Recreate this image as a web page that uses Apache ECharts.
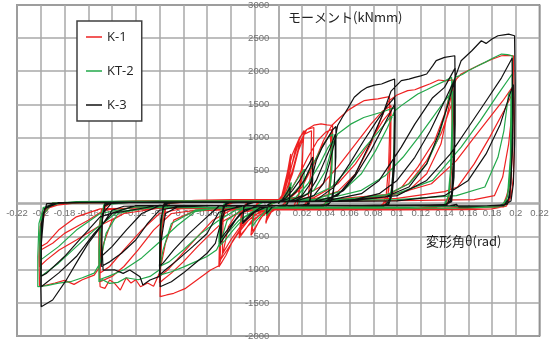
<!DOCTYPE html>
<html>
<head>
<meta charset="utf-8">
<script src="https://cdn.jsdelivr.net/npm/echarts@6/dist/echarts.min.js"></script>
<style>
html,body{margin:0;padding:0;background:#fff;}
#chart{width:554px;height:345px;}
</style>
</head>
<body>
<div id="chart"></div>
<script>
// ---- labels ----
const SERIES_NAMES = ['K-1', 'KT-2', 'K-3'];
const Y_TITLE = 'モーメント(kNmm)';
const X_TITLE = '変形角θ(rad)';

// ---- K-1 (red) : [rotation (rad), moment (kNmm)] ----
const K1_small = [[0,0],[0.002,60],[0.005,250],[0.008,500],[0.0105,750],[0.0095,300],[0.007,40],[0.003,-40],[0,-60],[-0.005,-90],[-0.008,-160],[-0.0105,-300],[-0.008,-60],[-0.004,30],[0,40],
 [0.004,130],[0.008,420],[0.0105,680],[0.009,180],[0.006,-30],[0,-60],[-0.006,-130],[-0.0105,-280],[-0.008,-30],[0,40],
 [0.004,120],[0.009,400],[0.014,780],[0.019,1020],[0.0217,1104],[0.02,600],[0.017,120],[0.013,-40],[0.005,-70],[0,-80],[-0.008,-110],[-0.015,-220],[-0.02,-400],[-0.023,-480],[-0.021,-100],[-0.017,30],[-0.01,50],[0,50],
 [0.006,150],[0.012,450],[0.017,800],[0.021,980],[0.02,400],[0.016,-20],[0.008,-60],[0,-70],[-0.012,-150],[-0.02,-380],[-0.022,-420],[-0.02,-60],[-0.015,30],[0,50],
 [0.003,120],[0.007,420],[0.012,750],[0.018,1000],[0.024,1120],[0.03,1150],[0.0295,600],[0.027,100],[0.023,-50],[0,-80],[-0.012,-130],[-0.022,-250],[-0.03,-450],[-0.033,-520],[-0.031,-120],[-0.026,30],[0,50],
 [0.005,150],[0.01,500],[0.016,850],[0.022,1050],[0.028,1100],[0.0275,500],[0.025,50],[0.02,-60],[0,-75],[-0.015,-160],[-0.025,-330],[-0.032,-480],[-0.03,-80],[-0.024,40],[0,50]];
const K1_c05 = [[0.006,150],[0.012,500],[0.018,900],[0.024,1120],[0.03,1185],[0.036,1205],[0.041,1190],[0.0458,1180],[0.0455,800],[0.044,300],[0.041,20],[0.035,-50],[0.02,-70],[0,-80],[-0.01,-100],[-0.02,-170],[-0.03,-330],[-0.038,-550],[-0.044,-780],[-0.048,-900],[-0.05,-955],[-0.0495,-600],[-0.048,-250],[-0.045,-30],[-0.04,40],[-0.025,55],[0,60],
 [0.008,120],[0.016,380],[0.025,700],[0.033,950],[0.04,1080],[0.045,1120],[0.0445,600],[0.042,100],[0.038,-40],[0.02,-70],[0,-80],[-0.015,-120],[-0.025,-250],[-0.035,-480],[-0.043,-700],[-0.049,-860],[-0.048,-350],[-0.045,-40],[-0.035,40],[0,55],
 [0.01,100],[0.02,300],[0.03,600],[0.038,900],[0.044,1050],[0.0445,450],[0.041,0],[0.03,-60],[0,-80],[-0.02,-130],[-0.03,-300],[-0.04,-550],[-0.047,-760],[-0.0465,-250],[-0.043,10],[0,50]];
const K1_c10 = [[0.01,80],[0.02,250],[0.03,600],[0.038,950],[0.045,1180],[0.052,1300],[0.0585,1405],[0.065,1480],[0.0725,1556],[0.078,1570],[0.0839,1581],[0.089,1600],[0.0937,1616],[0.094,1200],[0.093,600],[0.091,150],[0.088,-40],[0.075,-70],[0.05,-80],[0.02,-80],[0,-90],[-0.02,-100],[-0.035,-150],[-0.042,-350],[-0.046,-700],[-0.05,-940],[-0.057,-1004],[-0.0685,-1155],[-0.078,-1280],[-0.088,-1355],[-0.094,-1380],[-0.0995,-1406],[-0.099,-900],[-0.098,-400],[-0.095,-80],[-0.09,30],[-0.07,50],[-0.04,60],[0,60],
 [0.02,100],[0.035,250],[0.05,550],[0.065,900],[0.078,1200],[0.088,1400],[0.095,1480],[0.0945,800],[0.093,200],[0.09,-30],[0.06,-70],[0,-80],[-0.03,-100],[-0.045,-250],[-0.055,-420],[-0.068,-650],[-0.08,-880],[-0.09,-1050],[-0.097,-1150],[-0.1,-1200],[-0.0995,-600],[-0.097,-150],[-0.094,20],[-0.07,50],[0,55],
 [0.03,90],[0.05,300],[0.065,600],[0.078,950],[0.088,1250],[0.095,1400],[0.0945,600],[0.092,50],[0.085,-50],[0,-70],[-0.04,-100],[-0.055,-250],[-0.068,-500],[-0.083,-800],[-0.093,-1000],[-0.1,-1100],[-0.099,-350],[-0.096,0],[-0.06,40],[0,50]];
const K1_c15 = [[0.03,70],[0.05,180],[0.065,450],[0.078,900],[0.087,1300],[0.093,1550],[0.1,1640],[0.109,1706],[0.115,1720],[0.12,1756],[0.128,1810],[0.135,1867],[0.141,1855],[0.147,1870],[0.1475,1300],[0.146,600],[0.144,150],[0.14,-40],[0.12,-70],[0.08,-80],[0.04,-90],[0,-90],[-0.04,-90],[-0.07,-110],[-0.088,-250],[-0.095,-600],[-0.1,-1050],[-0.105,-1250],[-0.11,-1200],[-0.116,-1256],[-0.12,-1150],[-0.124,-1200],[-0.128,-1120],[-0.133,-1306],[-0.138,-1200],[-0.142,-1155],[-0.146,-1280],[-0.15,-1256],[-0.151,-900],[-0.151,-352],[-0.148,-80],[-0.14,20],[-0.1,40],[-0.05,50],[0,50],
 [0.05,60],[0.08,80],[0.095,150],[0.104,250],[0.1175,550],[0.1317,950],[0.14,1350],[0.146,1750],[0.1465,900],[0.145,250],[0.141,-30],[0.11,-80],[0.05,-80],[0,-80],[-0.06,-80],[-0.09,-150],[-0.105,-400],[-0.118,-700],[-0.13,-950],[-0.14,-1100],[-0.15,-1180],[-0.1505,-600],[-0.149,-100],[-0.14,30],[0,40],
 [0.06,60],[0.09,120],[0.11,300],[0.125,650],[0.137,1050],[0.145,1450],[0.147,1550],[0.146,500],[0.143,0],[0.13,-70],[0,-80],[-0.08,-70],[-0.1,-150],[-0.115,-400],[-0.13,-700],[-0.142,-950],[-0.15,-1050],[-0.149,-300],[-0.145,20],[-0.1,35],[0,40]];
const K1_c20 = [[0.05,60],[0.09,100],[0.11,200],[0.125,450],[0.137,900],[0.143,1400],[0.147,1750],[0.15,1880],[0.154,1958],[0.162,2030],[0.171,2108],[0.18,2180],[0.188,2233],[0.194,2240],[0.198,2233],[0.1985,1700],[0.199,1000],[0.198,400],[0.196,100],[0.192,-40],[0.18,-80],[0.16,-90],[0.1,-95],[0.05,-95],[0,-90],[-0.05,-80],[-0.1,-70],[-0.125,-100],[-0.14,-250],[-0.147,-600],[-0.15,-950],[-0.155,-1080],[-0.165,-1150],[-0.172,-1220],[-0.18,-1160],[-0.188,-1200],[-0.195,-1230],[-0.201,-1256],[-0.2015,-800],[-0.2005,-350],[-0.197,-120],[-0.19,-30],[-0.17,10],[-0.12,40],[-0.06,50],[0,50],
 [0.05,70],[0.1,150],[0.129,300],[0.15,650],[0.165,1000],[0.178,1300],[0.189,1550],[0.197,1756],[0.197,1000],[0.195,300],[0.19,-40],[0.15,-85],[0,-90],[-0.1,-70],[-0.13,-150],[-0.15,-330],[-0.17,-550],[-0.1845,-700],[-0.195,-850],[-0.201,-950],[-0.2,-400],[-0.196,-80],[-0.18,10],[-0.1,30],[0,40],
 [0.1,80],[0.14,180],[0.151,250],[0.165,600],[0.178,1000],[0.19,1400],[0.197,1655],[0.1965,800],[0.194,200],[0.189,-40],[0.1,-85],[0,-85],[-0.12,-60],[-0.147,-100],[-0.16,-250],[-0.17,-350],[-0.18,-450],[-0.19,-600],[-0.2,-700],[-0.1995,-200],[-0.19,0],[-0.1,30],[0,35],
 [0.12,50],[0.165,60],[0.182,120],[0.189,400],[0.194,900],[0.197,1400],[0.198,1606],[0.197,700],[0.195,100],[0.19,-50],[0.1,-85],[0,-80],[-0.1,-60],[-0.15,-80],[-0.17,-200],[-0.185,-400],[-0.195,-600],[-0.2,-650],[-0.199,-150],[-0.19,10],[0,30]];

// ---- KT-2 (green) ----
const KT2_small = [[0,0],[0.004,80],[0.008,200],[0.011,320],[0.0095,80],[0.006,-30],[0,-50],[-0.005,-70],[-0.01,-180],[-0.008,-20],[0,30],
 [0.006,100],[0.012,250],[0.018,420],[0.022,520],[0.021,200],[0.017,-20],[0.008,-50],[0,-50],[-0.01,-100],[-0.018,-250],[-0.022,-350],[-0.02,-50],[-0.012,30],[0,40]];
const KT2_c05 = [[0.01,100],[0.02,300],[0.028,560],[0.036,820],[0.042,1000],[0.046,1050],[0.045,600],[0.043,150],[0.039,-30],[0.02,-50],[0,-60],[-0.015,-90],[-0.028,-200],[-0.038,-400],[-0.045,-560],[-0.05,-650],[-0.049,-300],[-0.046,-30],[-0.04,30],[0,40],
 [0.015,100],[0.025,300],[0.035,600],[0.042,850],[0.046,950],[0.045,450],[0.042,20],[0.035,-40],[0,-55],[-0.02,-100],[-0.033,-250],[-0.043,-450],[-0.05,-580],[-0.049,-150],[-0.045,20],[0,35]];
const KT2_c10 = [[0.015,60],[0.03,200],[0.04,500],[0.046,900],[0.05,1050],[0.061,1200],[0.072,1300],[0.0867,1380],[0.098,1450],[0.0975,900],[0.096,300],[0.093,0],[0.085,-50],[0.04,-60],[0,-60],[-0.03,-80],[-0.043,-250],[-0.048,-550],[-0.052,-700],[-0.06,-800],[-0.07,-880],[-0.08,-960],[-0.09,-1030],[-0.1,-1080],[-0.0995,-500],[-0.097,-100],[-0.093,20],[-0.07,40],[0,45],
 [0.025,80],[0.045,250],[0.06,550],[0.073,850],[0.085,1100],[0.094,1300],[0.098,1350],[0.0975,600],[0.095,50],[0.088,-45],[0,-60],[-0.035,-90],[-0.05,-250],[-0.065,-450],[-0.08,-700],[-0.092,-880],[-0.1,-950],[-0.099,-300],[-0.095,10],[-0.06,35],[0,40]];
const KT2_c15 = [[0.03,60],[0.055,200],[0.07,450],[0.082,800],[0.092,1150],[0.098,1400],[0.1036,1480],[0.11,1560],[0.1175,1656],[0.125,1720],[0.1317,1781],[0.14,1850],[0.146,1907],[0.1465,1300],[0.145,500],[0.143,100],[0.139,-40],[0.1,-60],[0.05,-60],[0,-60],[-0.04,-60],[-0.07,-100],[-0.09,-300],[-0.097,-700],[-0.1,-1000],[-0.108,-1100],[-0.118,-1150],[-0.128,-1120],[-0.135,-1190],[-0.142,-1205],[-0.148,-1150],[-0.151,-1180],[-0.151,-700],[-0.15,-250],[-0.147,-40],[-0.14,25],[-0.1,40],[0,45],
 [0.04,70],[0.07,200],[0.09,420],[0.105,700],[0.118,1000],[0.13,1300],[0.14,1550],[0.147,1700],[0.1465,800],[0.144,150],[0.14,-40],[0.1,-60],[0,-60],[-0.05,-60],[-0.07,-120],[-0.085,-330],[-0.1,-580],[-0.115,-820],[-0.13,-1000],[-0.143,-1100],[-0.151,-1150],[-0.15,-450],[-0.147,-20],[-0.12,30],[0,40]];
const KT2_c20 = [[0.05,60],[0.09,120],[0.11,300],[0.125,600],[0.135,1000],[0.142,1450],[0.146,1800],[0.149,1907],[0.155,1950],[0.16,2007],[0.167,2070],[0.174,2133],[0.181,2200],[0.188,2259],[0.193,2250],[0.197,2233],[0.1975,1600],[0.197,900],[0.195,300],[0.192,30],[0.185,-50],[0.15,-70],[0.1,-70],[0,-70],[-0.06,-60],[-0.11,-60],[-0.135,-150],[-0.145,-450],[-0.15,-900],[-0.155,-1050],[-0.165,-1120],[-0.175,-1180],[-0.185,-1200],[-0.195,-1240],[-0.2025,-1256],[-0.2025,-800],[-0.2015,-300],[-0.198,-80],[-0.19,0],[-0.17,30],[-0.1,40],[0,45],
 [0.06,70],[0.1,150],[0.13,350],[0.154,853],[0.17,1250],[0.185,1650],[0.197,1958],[0.1965,1000],[0.195,300],[0.191,-30],[0.15,-70],[0,-70],[-0.1,-50],[-0.135,-120],[-0.155,-400],[-0.17,-650],[-0.185,-900],[-0.2,-1100],[-0.201,-500],[-0.198,-60],[-0.18,20],[0,40],
 [0.1,60],[0.15,120],[0.174,250],[0.185,700],[0.19,1100],[0.194,1656],[0.196,1700],[0.1955,700],[0.193,100],[0.188,-40],[0,-65],[-0.12,-50],[-0.15,-150],[-0.17,-400],[-0.185,-650],[-0.2,-850],[-0.1995,-200],[-0.19,10],[0,35]];

// ---- K-3 (black) ----
const K3_small = [[0,0],[0.003,50],[0.007,150],[0.01,250],[0.0095,60],[0.007,-20],[0,-30],[-0.005,-50],[-0.01,-150],[-0.009,-20],[-0.005,20],[0,25],
 [0.006,80],[0.012,200],[0.018,350],[0.022,480],[0.026,600],[0.029,702],[0.029,350],[0.027,60],[0.024,-20],[0.01,-30],[0,-30],[-0.01,-50],[-0.02,-130],[-0.027,-250],[-0.03,-300],[-0.029,-60],[-0.025,15],[-0.015,25],[0,25],
 [0.008,70],[0.015,180],[0.022,350],[0.027,550],[0.029,640],[0.0285,250],[0.026,0],[0.02,-25],[0,-30],[-0.015,-60],[-0.024,-170],[-0.03,-280],[-0.029,-30],[-0.02,20],[0,25]];
const K3_c05 = [[0.01,40],[0.02,120],[0.027,300],[0.032,650],[0.037,850],[0.042,1000],[0.046,1120],[0.0486,1164],[0.0485,700],[0.047,250],[0.044,20],[0.04,-25],[0.02,-30],[0,-30],[-0.015,-40],[-0.028,-90],[-0.036,-250],[-0.042,-420],[-0.047,-550],[-0.0487,-603],[-0.0485,-250],[-0.046,-30],[-0.04,20],[-0.02,25],[0,25],
 [0.015,50],[0.025,150],[0.032,350],[0.038,600],[0.044,850],[0.048,1050],[0.048,500],[0.046,80],[0.042,-20],[0,-30],[-0.02,-50],[-0.032,-150],[-0.04,-330],[-0.048,-520],[-0.0475,-150],[-0.044,10],[0,25]];
const K3_c10 = [[0.015,40],[0.03,120],[0.038,300],[0.043,600],[0.047,900],[0.05,1179],[0.054,1304],[0.059,1450],[0.064,1606],[0.07,1700],[0.075,1756],[0.081,1790],[0.087,1807],[0.093,1850],[0.098,1883],[0.0985,1300],[0.098,600],[0.096,150],[0.093,-10],[0.085,-30],[0.05,-35],[0,-35],[-0.03,-40],[-0.045,-100],[-0.05,-400],[-0.053,-600],[-0.06,-750],[-0.07,-900],[-0.08,-1050],[-0.09,-1180],[-0.0995,-1256],[-0.0995,-800],[-0.099,-300],[-0.097,-60],[-0.093,15],[-0.08,25],[-0.04,25],[0,25],
 [0.03,30],[0.047,249],[0.06,600],[0.072,950],[0.083,1250],[0.092,1480],[0.098,1606],[0.0975,800],[0.096,150],[0.092,-20],[0.06,-30],[0,-30],[-0.03,-30],[-0.05,-130],[-0.06,-452],[-0.072,-650],[-0.085,-854],[-0.095,-1000],[-0.1,-1080],[-0.0995,-400],[-0.097,-30],[-0.09,20],[0,25],
 [0.04,40],[0.055,200],[0.065,420],[0.078,800],[0.088,1150],[0.095,1400],[0.098,1500],[0.0975,700],[0.095,100],[0.09,-25],[0,-30],[-0.05,-40],[-0.06,-200],[-0.075,-450],[-0.088,-700],[-0.097,-900],[-0.1,-950],[-0.099,-250],[-0.096,0],[-0.08,20],[0,25]];
const K3_c15 = [[0.03,30],[0.05,120],[0.065,450],[0.077,900],[0.088,1350],[0.095,1700],[0.1036,1858],[0.11,1880],[0.115,1907],[0.12,1930],[0.125,1958],[0.13,2080],[0.133,2160],[0.14,2208],[0.1487,2233],[0.149,1700],[0.1485,900],[0.147,300],[0.145,40],[0.14,-20],[0.1,-30],[0.05,-30],[0,-30],[-0.05,-30],[-0.085,-50],[-0.095,-150],[-0.099,-600],[-0.1,-1100],[-0.108,-1155],[-0.114,-1230],[-0.1164,-1105],[-0.125,-1004],[-0.1306,-1054],[-0.138,-1000],[-0.1475,-1004],[-0.1485,-600],[-0.148,-200],[-0.146,-30],[-0.14,15],[-0.1,25],[0,25],
 [0.04,40],[0.07,150],[0.085,350],[0.1036,853],[0.115,1200],[0.13,1600],[0.14,1756],[0.149,2050],[0.149,1200],[0.148,400],[0.146,30],[0.14,-20],[0,-30],[-0.08,-30],[-0.1,-100],[-0.11,-300],[-0.12,-550],[-0.132,-750],[-0.142,-880],[-0.149,-950],[-0.1485,-300],[-0.146,0],[-0.12,20],[0,25],
 [0.06,40],[0.085,150],[0.1,350],[0.115,700],[0.128,1100],[0.14,1550],[0.148,1850],[0.148,900],[0.146,150],[0.142,-20],[0,-30],[-0.1,-30],[-0.115,-150],[-0.128,-400],[-0.14,-650],[-0.149,-800],[-0.148,-150],[-0.14,15],[0,25]];
const K3_c20 = [[0.05,40],[0.09,100],[0.11,250],[0.125,600],[0.135,1050],[0.143,1500],[0.149,1907],[0.154,2158],[0.163,2309],[0.171,2460],[0.175,2420],[0.18,2485],[0.185,2535],[0.19,2550],[0.194,2560],[0.199,2535],[0.1995,1800],[0.199,900],[0.198,300],[0.196,40],[0.19,-20],[0.16,-50],[0.152,-50],[0.15,-10],[0.145,-30],[0.1,-35],[0.05,-35],[0,-35],[-0.05,-30],[-0.1,-25],[-0.13,-40],[-0.14,-100],[-0.1475,-300],[-0.1516,-402],[-0.16,-600],[-0.167,-804],[-0.1785,-1155],[-0.19,-1456],[-0.1996,-1557],[-0.2,-1200],[-0.1995,-600],[-0.198,-150],[-0.195,-40],[-0.185,10],[-0.17,20],[-0.1,25],[0,25],
 [0.06,40],[0.1,120],[0.125,350],[0.145,750],[0.16,1150],[0.175,1550],[0.188,1900],[0.197,2200],[0.1975,1200],[0.196,300],[0.193,-10],[0.18,-35],[0,-35],[-0.1,-25],[-0.14,-150],[-0.155,-450],[-0.17,-800],[-0.185,-1050],[-0.1996,-1256],[-0.1995,-600],[-0.197,-80],[-0.185,15],[0,25],
 [0.1,40],[0.14,120],[0.16,350],[0.175,750],[0.187,1200],[0.195,1650],[0.198,1800],[0.1975,900],[0.195,100],[0.19,-30],[0,-35],[-0.12,-30],[-0.15,-200],[-0.165,-500],[-0.18,-800],[-0.195,-1050],[-0.2,-1100],[-0.1995,-300],[-0.195,0],[-0.16,20],[0,20]];

const K1 = [].concat(K1_small, K1_c05, K1_c10, K1_c15, K1_c20);
const KT2 = [].concat(KT2_small, KT2_c05, KT2_c10, KT2_c15, KT2_c20);
const K3 = [].concat(K3_small, K3_c05, K3_c10, K3_c15, K3_c20);

// ---- axis ----
const X_MIN = -0.22, X_MAX = 0.22, X_STEP = 0.02;
const Y_MIN = -2000, Y_MAX = 3000, Y_STEP = 500;

const GRID = {left: 17, top: 4, width: 522.5, height: 332};
// offsets that bring the axes onto the zero lines (computed from the scales)
const X_OFFSET = -GRID.height * (0 - Y_MIN) / (Y_MAX - Y_MIN);
const Y_OFFSET = -GRID.width * (0 - X_MIN) / (X_MAX - X_MIN);

const FONT = '"Liberation Sans", "Noto Sans", sans-serif';
const CJK = '"Noto Sans CJK JP", sans-serif';
const chart = echarts.init(document.getElementById('chart'), null, {renderer: 'canvas'});
const gridLine = {show: true, lineStyle: {color: '#a8a8a8', width: 1.5}};
function mk(name, data, color) {
  return {name, type: 'line', data, symbol: 'none', showSymbol: false, smooth: false,
    animation: false, lineStyle: {color, width: 1.2}, itemStyle: {color}, z: 3};
}
chart.setOption({
  animation: false,
  backgroundColor: '#fff',
  grid: Object.assign({show: true, borderColor: '#505050', borderWidth: 1.5, backgroundColor: 'transparent'}, GRID),
  xAxis: {type: 'value', min: X_MIN, max: X_MAX, interval: X_STEP, position: 'bottom', offset: X_OFFSET,
    axisLine: {onZero: false, lineStyle: {color: '#a8a8a8', width: 1.5}},
    axisTick: {show: false}, splitLine: gridLine,
    axisLabel: {fontSize: 9.5, color: '#707070', margin: 5, fontFamily: FONT}},
  yAxis: {type: 'value', min: Y_MIN, max: Y_MAX, interval: Y_STEP, position: 'left', offset: Y_OFFSET,
    axisLine: {onZero: false, lineStyle: {color: '#a8a8a8', width: 1.5}},
    axisTick: {show: false}, splitLine: gridLine,
    axisLabel: {fontSize: 9.5, color: '#707070', margin: 9, fontFamily: FONT, formatter: v => String(v)}},
  legend: {orient: 'vertical', left: 77, top: 21, itemWidth: 16, itemHeight: 1.5, itemGap: 20, icon: 'rect',
    padding: [9, 8, 9, 9], backgroundColor: '#fff', borderColor: '#404040', borderWidth: 1.5,
    textStyle: {fontSize: 13, lineHeight: 14, color: '#222', fontFamily: '"Open Sans", sans-serif'},
    data: SERIES_NAMES},
  graphic: [
    {type: 'text', left: 288, top: 11, z: 10, style: {text: Y_TITLE, font: '13px ' + CJK, fill: '#222'}},
    {type: 'text', left: 426, top: 235, z: 10, style: {text: X_TITLE, font: '13px ' + CJK, fill: '#222'}}
  ],
  series: [mk(SERIES_NAMES[0], K1, '#ee2222'), mk(SERIES_NAMES[1], KT2, '#22a84a'), mk(SERIES_NAMES[2], K3, '#111111')]
});
</script>
</body>
</html>
